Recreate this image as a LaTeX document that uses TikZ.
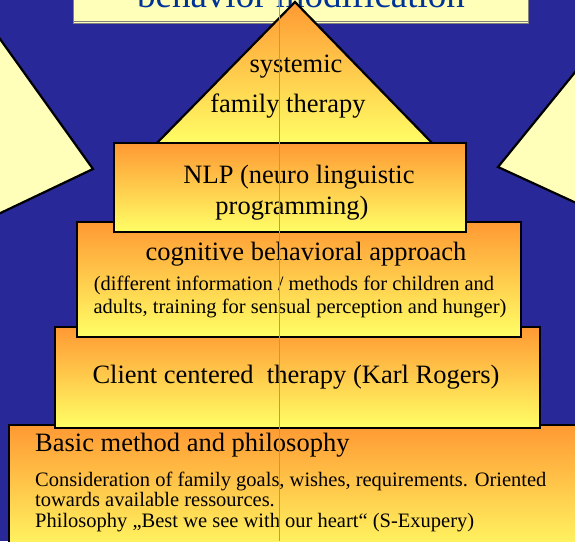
\documentclass[tikz,border=0pt]{standalone}
\usepackage{fontspec}
\setmainfont{Liberation Serif}
\newfontfamily\tnr{Liberation Serif}
\usetikzlibrary{positioning}
\definecolor{cbg}{RGB}{40,40,152}
\definecolor{cpale}{RGB}{255,255,185}
\definecolor{corange}{RGB}{255,153,51}
\definecolor{cyellow}{RGB}{255,255,102}
\definecolor{ctitle}{RGB}{0,51,153}
\definecolor{cguide}{RGB}{150,150,200}

\begin{document}
\begin{tikzpicture}[x=1pt,y=-1pt,
  tier/.style={draw=black,line width=2.2pt,top color=corange,bottom color=cyellow},
  side/.style={draw=black,line width=2.2pt,fill=cpale},
  big/.style={font=\tnr\fontsize{26.5}{32}\selectfont,inner sep=0,anchor=base},
  small/.style={font=\tnr\fontsize{20.5}{24}\selectfont,inner sep=0,anchor=base},
]
\path[use as bounding box] (0,0) rectangle (575,541);
\clip (0,0) rectangle (575,541);
\fill[cbg] (0,0) rectangle (575,541);
% --- title banner, cut by the top edge ---
\fill[cpale] (73,-20) rectangle (528,23);
\draw[gray,line width=0.6pt] (73,21) -- (528,21);
\draw[gray,line width=0.8pt] (73,-20) rectangle (528,23);
\node[inner sep=0,anchor=base,text=ctitle,font=\tnr\fontsize{37}{40}\selectfont] (title) at (301,7) {behavior modification};
% --- side wedges ---
\path[side] (-10,25) -- (93,169) -- (-10,218) -- cycle;
\path[side] (585,60) -- (498,167) -- (585,207) -- cycle;
% --- pyramid, top to bottom ---
\path[tier] (295,2) -- (155,145) -- (434,145) -- cycle;
\path[tier] (9,425) rectangle (590,560);
\path[tier] (55,327) rectangle (540,428);
\path[tier] (77,222) rectangle (521,337);
\path[tier] (114,143) rectangle (466,232);
\node[big] (sys) at (296,72) {systemic};
\node[big] (fam) at (288,112) {family therapy};
\node[big] (nlp1) at (299,183) {NLP (neuro linguistic};
\node[big] (nlp2) at (292,214) {programming)};
\node[big] (cog) at (306,260) {cognitive behavioral approach};
\node[small] (cog1) at (294,290) {(different information / methods for children and};
\node[small] (cog2) at (300,313) {adults, training for sensual perception and hunger)};
\node[big] (crt) at (296,383) {Client centered~ therapy (Karl Rogers)};
\node[big,anchor=base west] (basic) at (35,451) {Basic method and philosophy};
\node[small,anchor=base west] (bas1) at (35,486) {Consideration of family goals, wishes, requirements. Oriented};
\node[small,anchor=base west] (bas2) at (35,506) {towards available ressources.};
\node[small,anchor=base west] (bas3) at (35,527) {Philosophy „Best we see with our heart“ (S-Exupery)};
% --- thin vertical guide ---
\coordinate (gtop) at (279,0);
\coordinate (gbot) at (279,541);
\draw[cguide,line width=0.7pt] (gtop) -- (gbot);
\end{tikzpicture}
\end{document}
